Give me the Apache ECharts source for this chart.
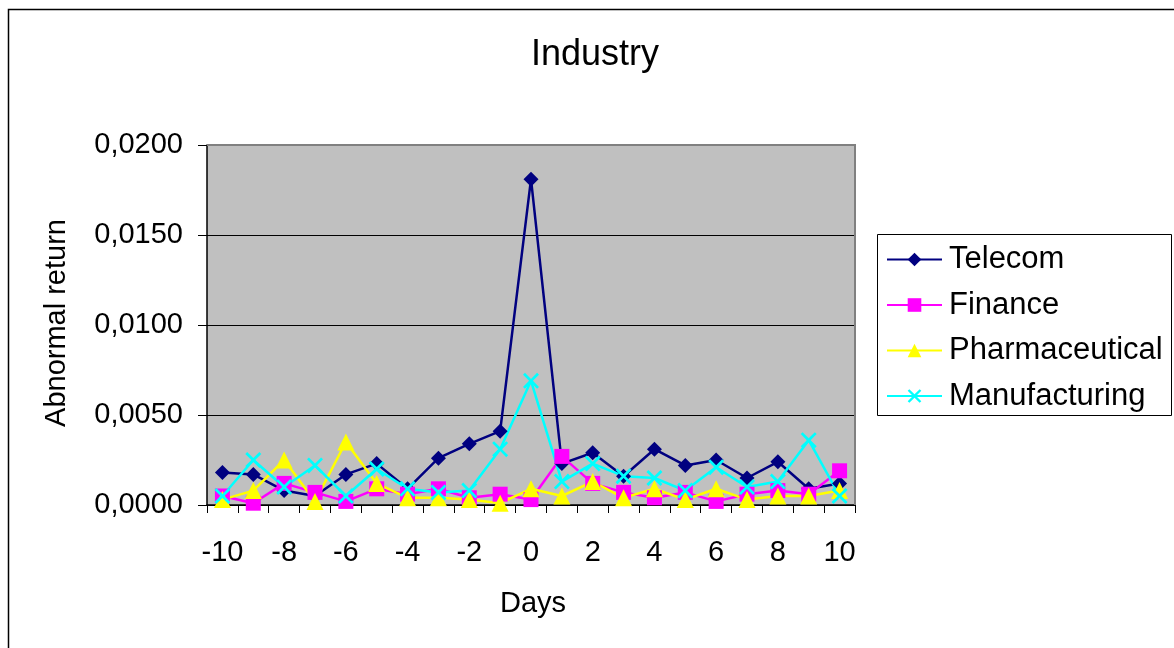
<!DOCTYPE html>
<html>
<head>
<meta charset="utf-8">
<title>Industry</title>
<script src="https://cdn.jsdelivr.net/npm/echarts@6/dist/echarts.min.js"></script>
<style>
  html, body { margin: 0; padding: 0; background: #ffffff; }
  #chart { width: 1174px; height: 648px; }
</style>
</head>
<body>
<div id="chart"></div>
<script>
// Event-window days
const days = ['-10','-9','-8','-7','-6','-5','-4','-3','-2','-1','0','1','2','3','4','5','6','7','8','9','10'];

// Mean abnormal return per industry, by day
const telecom = [0.0018, 0.0017, 0.0008, 0.0005, 0.0017, 0.0023, 0.0009, 0.0026, 0.0034, 0.0041, 0.0181,
                 0.0023, 0.0029, 0.0016, 0.0031, 0.0022, 0.0025, 0.0015, 0.0024, 0.0009, 0.0012];
const finance = [0.0005, 0.0001, 0.0012, 0.0007, 0.0002, 0.0009, 0.0006, 0.0009, 0.0004, 0.0006, 0.0003,
                 0.0027, 0.0012, 0.0007, 0.0004, 0.0007, 0.0002, 0.0006, 0.0008, 0.0006, 0.0019];
const pharmaceutical = [0.0003, 0.0008, 0.0025, 0.0002, 0.0035, 0.0012, 0.0004, 0.0004, 0.0003, 0.0001, 0.0009,
                        0.0005, 0.0013, 0.0004, 0.0009, 0.0003, 0.0009, 0.0003, 0.0005, 0.0005, 0.0008];
const manufacturing = [0.0005, 0.0025, 0.0010, 0.0022, 0.0005, 0.0020, 0.0009, 0.0007, 0.0008, 0.0031, 0.0069,
                       0.0013, 0.0023, 0.0016, 0.0015, 0.0008, 0.0021, 0.0010, 0.0013, 0.0036, 0.0005];

const FONT = "'Liberation Sans', Arial, sans-serif";
const X_SYMBOL = 'path://M0,1.2L1.2,0L5,3.8L8.8,0L10,1.2L6.2,5L10,8.8L8.8,10L5,6.2L1.2,10L0,8.8L3.8,5Z';

function lineSeries(name, data, color, symbol, size) {
  return {
    name: name,
    type: 'line',
    data: data,
    symbol: symbol,
    symbolSize: size,
    showAllSymbol: true,
    lineStyle: { color: color, width: 2.5 },
    itemStyle: { color: color, borderWidth: 0 },
    emphasis: { disabled: true },
    animation: false
  };
}

const chart = echarts.init(document.getElementById('chart'), null, { renderer: 'canvas' });

chart.setOption({
  backgroundColor: '#ffffff',
  animation: false,
  textStyle: { fontFamily: FONT },
  grid: {
    left: 207, top: 145, right: 319, bottom: 143,
    show: true,
    backgroundColor: '#c0c0c0',
    borderWidth: 0
  },
  graphic: [
    // chart frame
    { type: 'rect', silent: true, z: -10,
      shape: { x: 8.5, y: 9.5, width: 1200, height: 700 },
      style: { fill: null, stroke: '#000000', lineWidth: 1.5 } },
    // plot-area top and right edges
    { type: 'polyline', silent: true, z: 1,
      shape: { points: [[207, 145], [855, 145], [855, 505]] },
      style: { fill: null, stroke: '#808080', lineWidth: 2 } },
    // legend frame
    { type: 'rect', silent: true, z: 1,
      shape: { x: 877.5, y: 234.5, width: 294, height: 181 },
      style: { fill: '#ffffff', stroke: '#000000', lineWidth: 1 } },
    // title
    { type: 'text', silent: true,
      style: { text: 'Industry', x: 595, y: 55, align: 'center', verticalAlign: 'middle',
               font: '36px ' + FONT, fill: '#000000' } },
    // axis titles
    { type: 'text', silent: true,
      style: { text: 'Days', x: 533, y: 604, align: 'center', verticalAlign: 'middle',
               font: '29px ' + FONT, fill: '#000000' } },
    { type: 'text', silent: true, rotation: Math.PI / 2, x: 57, y: 323,
      style: { text: 'Abnormal return', x: 0, y: 0, align: 'center', verticalAlign: 'middle',
               font: '29px ' + FONT, fill: '#000000' } }
  ],
  legend: {
    orient: 'vertical',
    left: 877, top: 236,
    padding: [8, 10, 8, 9],
    itemWidth: 55,
    itemHeight: 17,
    itemGap: 14.5,
    z: 5,
    selectedMode: false,
    textStyle: { fontFamily: FONT, fontSize: 31, color: '#000000', padding: [0, 0, 0, 2] },
    data: ['Telecom', 'Finance', 'Pharmaceutical', 'Manufacturing']
  },
  xAxis: {
    type: 'category',
    data: days,
    boundaryGap: true,
    axisLine: { show: true, lineStyle: { color: '#000000', width: 1.5 } },
    axisTick: { show: true, interval: 0, alignWithLabel: false, length: 8, lineStyle: { color: '#000000' } },
    axisLabel: { interval: 1, margin: 33, fontSize: 29, color: '#000000', fontFamily: FONT },
    splitLine: { show: false }
  },
  yAxis: {
    type: 'value',
    min: 0, max: 0.02, interval: 0.005,
    axisLine: { show: true, lineStyle: { color: '#000000', width: 1.5 } },
    axisTick: { show: true, length: 9, lineStyle: { color: '#000000' } },
    axisLabel: {
      margin: 24, fontSize: 29, color: '#000000', fontFamily: FONT,
      formatter: v => v.toFixed(4).replace('.', ',')
    },
    splitLine: { show: true, lineStyle: { color: '#000000', width: 1 } }
  },
  series: [
    lineSeries('Telecom', telecom, '#000080', 'diamond', 15),
    lineSeries('Finance', finance, '#ff00ff', 'rect', 15),
    lineSeries('Pharmaceutical', pharmaceutical, '#ffff00', 'triangle', 17),
    lineSeries('Manufacturing', manufacturing, '#00ffff', X_SYMBOL, 16)
  ]
});
</script>
</body>
</html>
